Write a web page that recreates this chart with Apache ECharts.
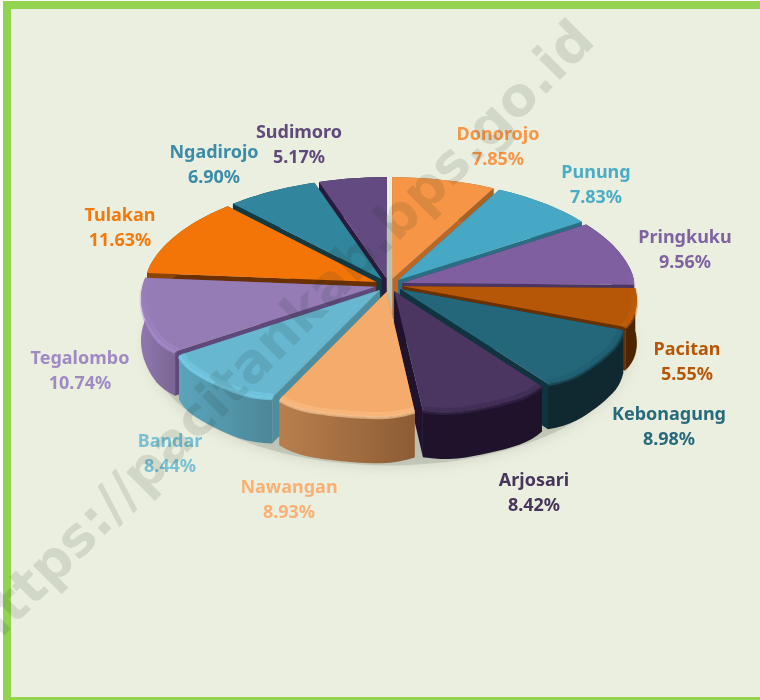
<!DOCTYPE html>
<html><head><meta charset="utf-8">
<style>html,body{margin:0;padding:0;background:#fff}#c{width:760px;height:700px}</style>
<script src="https://cdn.jsdelivr.net/npm/echarts@6/dist/echarts.min.js"></script>
</head><body><div id="c"></div>
<script>
const categories=['Donorojo','Punung','Pringkuku','Pacitan','Kebonagung','Arjosari','Nawangan','Bandar','Tegalombo','Tulakan','Ngadirojo','Sudimoro'];
const shares=[7.85,7.83,9.56,5.55,8.98,8.42,8.93,8.44,10.74,11.63,6.90,5.17];
const valueLabels=['7.85%','7.83%','9.56%','5.55%','8.98%','8.42%','8.93%','8.44%','10.74%','11.63%','6.90%','5.17%'];
const labelColors=['#f79646','#4bacc6','#8064a2','#b65708','#276a7c','#47355c','#f9b074','#78c0d4','#a08ac4','#f27a0d','#3a8ca9','#604a7b'];
const topColors=['#f59545','#46a8c5','#7f5f9f','#b65708','#24677a','#4a3660','#f5ab6b','#67b7d0','#957cb5','#f37508','#31859c','#634a80'];
const wallColors=['#b8682a','#2b6e84','#4b3563','#6b3000','#0f333f','#21132e','#b07a4a','#4f8c9e','#5e4a7a','#6b3000','#0f3a46','#2b1a3e'];
const rimLeft=['#a5632c','#2b6e84','#4b3563','#4d2600','#10282f','#1e132b','#b87f4e','#5aa5bc','#8e78ad','#8a4505','#0f3a46','#2b1a3e'];
const rimRight=['#a5632c','#2b6e84','#4b3563','#4d2600','#10282f','#1e132b','#8d5c34','#4c8698','#7a6595','#8a4505','#0f3a46','#2b1a3e'];
const rimGlow=['#ffc080','#7fd6f2','#a48ac8','#d06a10','#1c5566','#352348','#ffcb9a','#7fd6f2','#a98fd2','#ff9a3c','#4aa8c4','#7a60a0'];
const labelCentres=[[498,147],[596,185],[685,250],[687,362],[669,427],[534,493],[289,500],[170,454],[80,371],[120,228],[214,165],[299,145]];

const CX=389,CY=285,RX=233,RY=112,K=0.094,DEPTH=42,BLAST=0.06,ROUND=0.03;
function proj(u,v,d){const w=1-K*v;return [CX+RX*u/w,CY+RY*v/w+(d?d/w:0)];}
function circle(fn){const p=[];for(let a=0;a<=360;a+=3){const t=a*Math.PI/180;p.push(fn(Math.sin(t),-Math.cos(t)));}return p;}

let cum=0;
const slices=shares.map((s,i)=>{const st=cum;cum+=s;return {i,st,en:cum,mid:(st+cum)/2};});
const TWO=2*Math.PI;
// paint back to front
const order=slices.slice().sort((a,b)=>(-Math.cos(a.mid/100*TWO))-(-Math.cos(b.mid/100*TWO)));
const sliceData=order.map(s=>[s.st,s.en,s.i]);

function renderSlice(params,api){
  const st=api.value(0)/100*TWO,en=api.value(1)/100*TWO,i=api.value(2),mid=(st+en)/2;
  const eu=BLAST*Math.sin(mid),ev=-BLAST*Math.cos(mid);
  const arc=[];const n=Math.max(8,Math.ceil((en-st)/(2*Math.PI/180)));
  for(let j=0;j<=n;j++){
    const t=st+(en-st)*j/n,v0=-Math.cos(t);
    const d=Math.min(t-st,en-t),g=Math.max(0,1-d/0.16);
    const r=1-ROUND*g*g*Math.max(0,v0+0.15);
    arc.push([r*Math.sin(t)+eu,r*v0+ev]);
  }
  const top=arc.map(a=>proj(a[0],a[1],0)),bot=arc.map(a=>proj(a[0],a[1],DEPTH));
  const at=proj(eu,ev,0),ab=proj(eu,ev,DEPTH);
  const ch=[];
  const poly=(pts,fill,extra)=>ch.push({type:'polygon',shape:{points:pts},style:Object.assign({fill},extra||{}),silent:true});
  poly([at,top[0],bot[0],ab],wallColors[i]);
  poly([at,top[n],bot[n],ab],wallColors[i]);
  const minX=Math.min(...top.map(p=>p[0])),maxX=Math.max(...top.map(p=>p[0]));
  poly(top.concat(bot.slice().reverse()),new echarts.graphic.LinearGradient(minX,0,maxX,0,[{offset:0,color:rimLeft[i]},{offset:1,color:rimRight[i]}],true));
  poly([at].concat(top),topColors[i]);
  // soft bevel along the lit outer edge
  for(let j=0;j<n;j++){
    const a=arc[j],b=arc[j+1],v=(a[1]+b[1])/2,op=Math.max(0,Math.min(1,(v+0.15)/0.6));
    if(op<=0)continue;
    const seg=(ins,off)=>[proj(a[0]-ins*(a[0]-eu),a[1]-ins*(a[1]-ev),off),proj(b[0]-ins*(b[0]-eu),b[1]-ins*(b[1]-ev),off)];
    ch.push({type:'polyline',shape:{points:seg(0.012,0)},style:{fill:null,stroke:rimGlow[i],lineWidth:6,opacity:0.35*op},silent:true});
    ch.push({type:'polyline',shape:{points:seg(0,1)},style:{fill:null,stroke:rimGlow[i],lineWidth:3,opacity:0.65*op},silent:true});
  }
  return {type:'group',children:ch};
}
function renderFloor(){
  return {type:'polygon',shape:{points:circle((u,v)=>proj(u*1.03,v*1.03+0.02,DEPTH+3))},
    style:{fill:'rgba(165,170,155,0.45)',shadowBlur:14,shadowColor:'rgba(150,155,140,0.75)'},silent:true};
}
function renderLabel(params,api){
  const i=api.value(0),c=labelCentres[i];
  return {type:'text',silent:true,x:c[0],y:c[1],style:{text:categories[i]+'\n'+valueLabels[i],fill:labelColors[i],
    font:'700 18px "Noto Sans"',align:'center',verticalAlign:'middle',lineHeight:25}};
}
const chart=echarts.init(document.getElementById('c'),null,{renderer:'canvas'});
chart.setOption({
  animation:false,backgroundColor:'#ffffff',
  graphic:[
    {type:'rect',z:0,shape:{x:3,y:1,width:757,height:699},style:{fill:'#92d350'}},
    {type:'rect',z:0,shape:{x:11,y:9,width:749,height:688},style:{fill:'#ebefdf'}},
    {type:'text',z:100,silent:true,x:282,y:338,rotation:Math.PI/4,style:{text:'https://pacitankab.bps.go.id',
      font:'bold 54px "DejaVu Sans"',fill:'rgba(30,50,40,0.12)',align:'center',verticalAlign:'middle'}}
  ],
  series:[
    {type:'custom',coordinateSystem:'none',z:2,renderItem:renderFloor,data:[[0]]},
    {type:'custom',coordinateSystem:'none',z:3,renderItem:renderSlice,data:sliceData},
    {type:'custom',coordinateSystem:'none',z:4,renderItem:renderLabel,data:categories.map((c,i)=>[i])}
  ]
});
</script></body></html>
